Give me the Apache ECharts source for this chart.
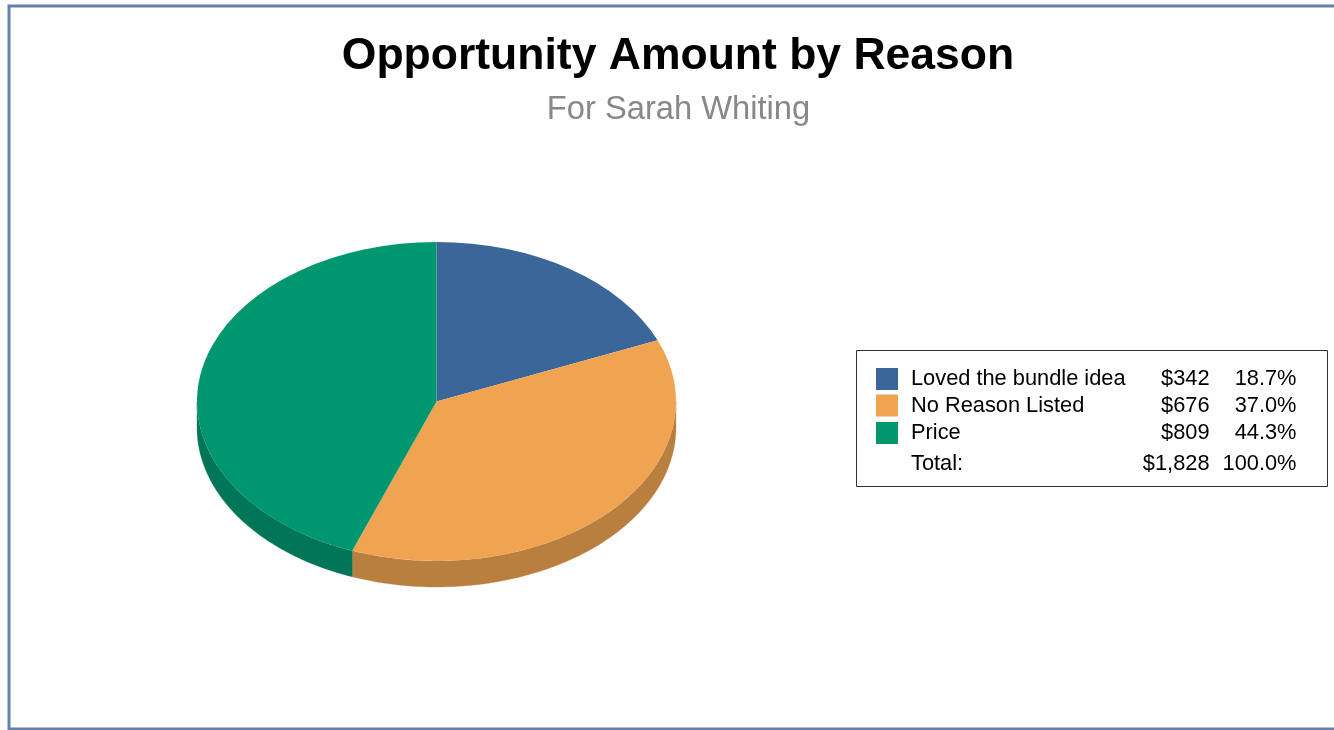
<!DOCTYPE html>
<html>
<head>
<meta charset="utf-8">
<style>html,body{margin:0;padding:0;background:#fff}#c{width:1334px;height:730px}</style>
<script src="https://cdn.jsdelivr.net/npm/echarts@6/dist/echarts.min.js"></script>
</head>
<body>
<div id="c"></div>
<script>
const categories = ['Loved the bundle idea', 'No Reason Listed', 'Price'];
const amounts = [342, 676, 809];
const amountLabels = ['$342', '$676', '$809'];
const percentLabels = ['18.7%', '37.0%', '44.3%'];
const totalLabel = 'Total:';
const totalAmount = '$1,828';
const totalPercent = '100.0%';
const topColors = ['#3A6699', '#F0A452', '#009670'];
const sideColors = ['#2C4D73', '#B97F3F', '#007558'];

const CX = 436.5, CY = 401.5, RX = 239.5, RY = 159.5, DEPTH = 26;
const FONT = '"Liberation Sans", Arial, sans-serif';
const sum = amounts.reduce((a, b) => a + b, 0);

function renderSlice(params, api) {
  const i = params.dataIndex;
  let before = 0;
  for (let k = 0; k < i; k++) before += amounts[k];
  const t0 = before / sum * 2 * Math.PI;
  const t1 = (before + api.value(0)) / sum * 2 * Math.PI;
  const children = [];
  const a = Math.max(t0, Math.PI / 2), b = Math.min(t1, 3 * Math.PI / 2);
  if (b > a) {
    const upper = [], lower = [], n = 120;
    for (let s = 0; s <= n; s++) {
      const t = a + (b - a) * s / n;
      const x = CX + RX * Math.sin(t), y = CY - RY * Math.cos(t);
      upper.push([x, y]);
      lower.unshift([x, y + DEPTH]);
    }
    children.push({
      type: 'polygon',
      shape: { points: upper.concat(lower) },
      style: { fill: sideColors[i], stroke: sideColors[i], lineWidth: 0.3 }
    });
  }
  children.push({
    type: 'sector',
    x: CX, y: CY, scaleX: 1, scaleY: RY / RX,
    shape: { cx: 0, cy: 0, r0: 0, r: RX, startAngle: t0 - Math.PI / 2, endAngle: t1 - Math.PI / 2, clockwise: true },
    style: { fill: topColors[i] }
  });
  return { type: 'group', children };
}

const ROW_Y = [379, 406, 433];
const legendEls = [
  { type: 'rect', shape: { x: 856.5, y: 350.5, width: 471, height: 136 }, style: { fill: '#fff', stroke: '#333', lineWidth: 1 } }
];
function txt(text, x, y, align) {
  return { type: 'text', x, y, style: { text, x: 0, y: 0, fill: '#000', font: '21.8px ' + FONT, textAlign: align, textVerticalAlign: 'middle' } };
}
categories.forEach((c, i) => {
  legendEls.push({ type: 'rect', shape: { x: 876, y: [368, 394.5, 422][i], width: 22, height: 22 }, style: { fill: topColors[i] } });
  legendEls.push(txt(c, 911, ROW_Y[i], 'left'));
  legendEls.push(txt(amountLabels[i], 1209.5, ROW_Y[i], 'right'));
  legendEls.push(txt(percentLabels[i], 1296.5, ROW_Y[i], 'right'));
});
legendEls.push(txt(totalLabel, 911, 464, 'left'));
legendEls.push(txt(totalAmount, 1209.5, 464, 'right'));
legendEls.push(txt(totalPercent, 1296.5, 464, 'right'));

const chart = echarts.init(document.getElementById('c'), null, { renderer: 'canvas' });
chart.setOption({
  animation: false,
  backgroundColor: '#fff',
  title: [
    { text: 'Opportunity Amount by Reason', left: 673, top: 29, textAlign: 'center',
      textStyle: { fontFamily: FONT, fontSize: 44.5, fontWeight: 'bold', color: '#000' } },
    { text: 'For Sarah Whiting', left: 673.5, top: 88.5, textAlign: 'center',
      textStyle: { fontFamily: FONT, fontSize: 32.7, fontWeight: 'normal', color: '#888' } }
  ],
  graphic: { elements: [
    { type: 'rect', silent: true, shape: { x: 9, y: 6, width: 1400, height: 723 }, style: { fill: 'none', stroke: '#6480B0', lineWidth: 3 } },
    { type: 'group', children: legendEls }
  ] },
  series: [{
    type: 'custom',
    coordinateSystem: 'none',
    silent: true,
    data: amounts.map((v, i) => ({ name: categories[i], value: [v] })),
    renderItem: renderSlice
  }]
});
</script>
</body>
</html>
